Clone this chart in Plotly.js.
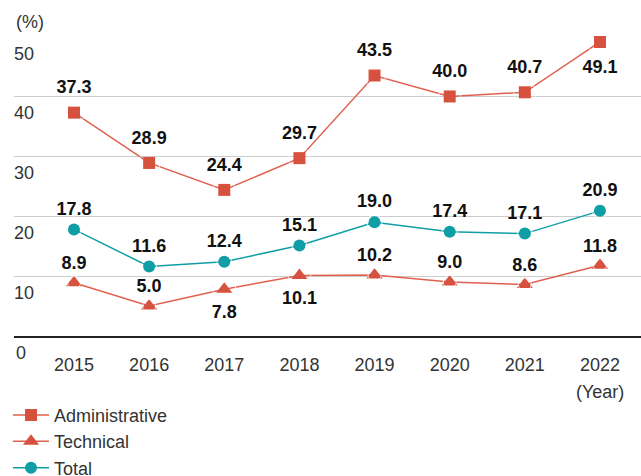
<!DOCTYPE html>
<html><head><meta charset="utf-8">
<script src="https://cdn.plot.ly/plotly-3.0.1.min.js"></script>
<style>html,body{margin:0;padding:0;background:#fff}</style>
</head><body>
<div id="chart" style="width:641px;height:476px"></div>
<script>
const years = ["2015","2016","2017","2018","2019","2020","2021","2022"];
const administrative = [37.3, 28.9, 24.4, 29.7, 43.5, 40.0, 40.7, 49.1];
const technical = [8.9, 5.0, 7.8, 10.1, 10.2, 9.0, 8.6, 11.8];
const total = [17.8, 11.6, 12.4, 15.1, 19.0, 17.4, 17.1, 20.9];
const adminPos = ["top center","top center","top center","top center","top center","top center","top center","bottom center"];
const techPos = ["top center","top center","bottom center","bottom center","top center","top center","top center","top center"];
const totalPos = ["top center","top center","top center","top center","top center","top center","top center","top center"];
const yTicks = [0, 10, 20, 30, 40, 50];
const yTickText = ["0","10","20","30","40","50"];

const RED = "#d6523f", REDLINE = "#e0604f", TEAL = "#0f9ea6";
const FONT = "Liberation Sans, Arial, Helvetica, sans-serif";
const labelFont = {family: FONT, size: 18, color: "#111", weight: "bold"};
const axisFont = {family: FONT, size: 18, color: "#333"};
const fmt = v => v.toFixed(1);

function series(name, vals, color, lineColor, symbol, size, group) {
  return {x: years, y: vals, name: name, type: "scatter", mode: "lines+markers",
    line: {color: lineColor, width: 1.5}, marker: {symbol: symbol, size: size, color: color},
    cliponaxis: false, legendgroup: group};
}
function labels(vals, pos, padTop, padBottom) {
  return {x: years, y: vals, type: "scatter", mode: "markers+text", showlegend: false,
    marker: {size: pos.map(p => p.startsWith("bottom") ? padBottom : padTop), color: "rgba(0,0,0,0)"},
    text: vals.map(fmt), textposition: pos,
    textfont: labelFont, cliponaxis: false, hoverinfo: "skip"};
}

const traces = [
  series("Administrative", administrative, RED, REDLINE, "square", 12, "a"),
  series("Technical", technical, RED, REDLINE, "triangle-up", 14, "b"),
  series("Total", total, TEAL, TEAL, "circle", 12, "c"),
  labels(administrative, adminPos, 22, 26),
  labels(technical, techPos, 13, 23),
  labels(total, totalPos, 15, 15)
];

const layout = {
  width: 641, height: 476,
  margin: {l: 14, r: 0, t: 36, b: 140, autoexpand: false},
  paper_bgcolor: "#fff", plot_bgcolor: "#fff",
  font: {family: FONT, size: 18, color: "#333"},
  showlegend: true,
  legend: {xref: "container", yref: "container", x: 0.0125, xanchor: "left", y: 0.1665, yanchor: "top",
           orientation: "v", itemwidth: 36, font: axisFont, tracegroupgap: 2, traceorder: "normal"},
  xaxis: {type: "category", range: [-0.7985, 7.546], showgrid: false, zeroline: false,
          showline: true, linecolor: "#222", linewidth: 1.5, ticks: "", ticklabelstandoff: 12,
          tickfont: axisFont, fixedrange: true, automargin: false},
  yaxis: {range: [0, 50.1], tickvals: yTicks.slice(1), ticktext: yTickText.slice(1), showgrid: true, gridcolor: "#cccccc",
          gridwidth: 1, zeroline: false, showline: false, ticks: "",
          ticklabelposition: "inside bottom", ticklabelshift: 4, ticklabelstandoff: -3,
          tickfont: axisFont, fixedrange: true, automargin: false},
  annotations: [
    {text: yTickText[0], xref: "paper", yref: "y", x: 0, y: yTicks[0], xanchor: "left", yanchor: "top", yshift: -5,
     showarrow: false, font: axisFont},
    {text: "(%)", xref: "paper", yref: "paper", x: 0, y: 1, xanchor: "left", yanchor: "bottom", yshift: 2,
     showarrow: false, font: axisFont},
    {text: "(Year)", xref: "x", yref: "paper", x: 7, y: 0, xanchor: "center", yanchor: "top", yshift: -44,
     showarrow: false, font: axisFont}
  ]
};
Plotly.newPlot("chart", traces, layout, {displayModeBar: false, staticPlot: true});
</script>
</body></html>
